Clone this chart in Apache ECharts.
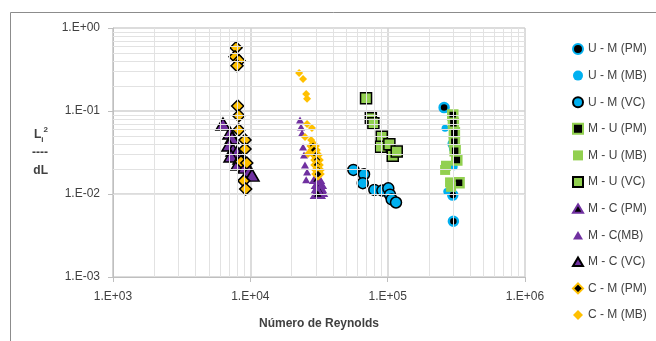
<!DOCTYPE html>
<html>
<head>
<meta charset="utf-8">
<script src="https://cdn.jsdelivr.net/npm/echarts@6/dist/echarts.min.js"></script>
<style>
  html, body { margin: 0; padding: 0; background: #fff; }
  #chart { width: 656px; height: 341px; }
</style>
</head>
<body>
<div id="chart"></div>
<script>
// [Reynolds number, Li^2 / dL]
const umPM = [[257600, 0.110], [297900, 0.0097], [301000, 0.0047], [300000, 0.040]]
const umMB = [[261800, 0.062], [304900, 0.0213], [269400, 0.0107], [296000, 0.035]]
const umVC = [[56300, 0.0195], [67300, 0.0173], [65900, 0.0135], [80000, 0.0112], [91500, 0.0110],
  [101100, 0.0117], [104000, 0.0098], [107000, 0.0086], [115000, 0.0079]]
const muPM = [[297900, 0.0895], [301000, 0.0711], [306000, 0.0548], [306000, 0.0427],
  [309900, 0.0332], [318700, 0.0257], [331000, 0.0137]]
const muMB = [[266000, 0.0219], [262000, 0.0195], [284600, 0.0138], [289500, 0.0122]]
const muVC = [[69600, 0.142], [75400, 0.0817], [78700, 0.0711], [90600, 0.0490], [89100, 0.0372],
  [102900, 0.0397], [108900, 0.0289], [116400, 0.0324]]
const mcPM = [[30600, 0.0156], [31600, 0.0136], [31600, 0.0121], [32200, 0.0109], [31000, 0.0103]]
const mcMB = [[23000, 0.078], [23400, 0.0641], [23800, 0.0543], [24200, 0.0368], [24600, 0.0295],
  [25000, 0.0224], [25900, 0.0184], [25500, 0.0148]]
const mcVC = [[6320, 0.0697], [7110, 0.0543], [7360, 0.0473], [6990, 0.0389], [7480, 0.0339],
  [8000, 0.0321], [7230, 0.0287], [8410, 0.0272], [9000, 0.0250], [8130, 0.0230],
  [9140, 0.0211], [9790, 0.0189], [10290, 0.0169]]
const cmPM = [[28650, 0.0379], [29100, 0.0339], [30100, 0.0295], [30600, 0.0257],
  [30600, 0.0224], [31100, 0.0195], [31100, 0.0174]]
const cmMB = [[22650, 0.287], [24200, 0.243], [25500, 0.160], [25900, 0.140], [25900, 0.0697],
  [28100, 0.0624], [25000, 0.0486], [27700, 0.0447], [26300, 0.0303]]
const cmVC = [[7870, 0.579], [7740, 0.451], [8280, 0.404], [8000, 0.351], [8090, 0.115],
  [8240, 0.0877], [8240, 0.059], [9150, 0.0447], [9150, 0.0348], [8550, 0.0245],
  [9420, 0.0236], [8960, 0.0144], [9250, 0.0115]]

const legendNames = ['U - M (PM)', 'U - M (MB)', 'U - M (VC)', 'M - U (PM)', 'M - U (MB)', 'M - U (VC)',
  'M - C (PM)', 'M - C(MB)', 'M - C (VC)', 'C - M (PM)', 'C - M (MB)']

const xMinor = []
const yMinor = []
for (const d of [1e3, 1e4, 1e5]) for (let k = 2; k <= 9; k++) xMinor.push({ xAxis: k * d })
for (const d of [1e-3, 1e-2, 1e-1]) for (let k = 2; k <= 9; k++) yMinor.push({ yAxis: k * d })

const BLUE = '#00B0F0', GREEN = '#92D050', PURPLE = '#7030A0', GOLD = '#FFC000'
const TRI = 'path://M0,0L10,17L-10,17Z'
const DIA = 'path://M0,0L10,10L0,20L-10,10Z'
const font = 'Liberation Sans'

const pm = (name, symbol, col, data, size) => ({
  name, type: 'scatter', symbol, symbolSize: size, data,
  itemStyle: { color: '#000', borderColor: col, borderWidth: 2.5, opacity: 1 },
})
const mb = (name, symbol, col, data, size) => ({
  name, type: 'scatter', symbol, symbolSize: size, data,
  itemStyle: { color: col, opacity: 1 },
})
const vc = (name, symbol, col, data, size) => ({
  name, type: 'scatter', symbol, symbolSize: size, data,
  itemStyle: { color: col, borderColor: '#000', borderWidth: 1.5, opacity: 1 },
})

const expLabel = (v) => {
  const e = Math.round(Math.log10(v))
  return '1.E' + (e < 0 ? '-' : '+') + String(Math.abs(e)).padStart(2, '0')
}

const chart = echarts.init(document.getElementById('chart'))
chart.setOption({
  animation: false,
  textStyle: { fontFamily: font },
  graphic: [{
    type: 'rect', shape: { x: 10.5, y: 12.5, width: 700, height: 400 },
    style: { fill: 'none', stroke: '#8c8c8c', lineWidth: 1 }, silent: true,
  }],
  grid: { left: 113, right: 131, top: 28, bottom: 64 },
  legend: {
    data: legendNames, orient: 'vertical', left: 567, top: 38,
    itemWidth: 10, itemHeight: 10, itemGap: 14.6,
    textStyle: { fontFamily: font, fontSize: 12, color: '#404040' },
  },
  xAxis: {
    type: 'log', logBase: 10, min: 1e3, max: 1e6,
    name: 'Número de Reynolds', nameLocation: 'middle', nameGap: 41,
    nameTextStyle: { fontFamily: font, fontWeight: 'bold', fontSize: 12, color: '#404040' },
    axisLine: { lineStyle: { color: '#bfbfbf', width: 1 } },
    axisTick: { show: true, length: 5, lineStyle: { color: '#bfbfbf' } },
    axisLabel: { formatter: expLabel, margin: 14, fontSize: 12, color: '#404040' },
    splitLine: { show: true, lineStyle: { color: '#d0d0d0', width: 1.5 } },
  },
  yAxis: {
    type: 'log', logBase: 10, min: 1e-3, max: 1,
    name: '{a|L}{s|i}{p|2}\n{d|----}\n{a|dL}', nameLocation: 'middle', nameRotate: 0, nameGap: 65,
    nameTextStyle: {
      fontFamily: font, fontWeight: 'bold', color: '#404040',
      rich: {
        a: { fontFamily: font, fontWeight: 'bold', fontSize: 12, lineHeight: 18, color: '#404040' },
        s: { fontFamily: font, fontWeight: 'bold', fontSize: 8, verticalAlign: 'bottom', color: '#404040' },
        p: { fontFamily: font, fontWeight: 'bold', fontSize: 8, verticalAlign: 'top', color: '#404040' },
        d: { fontFamily: font, fontWeight: 'bold', fontSize: 12, lineHeight: 18, color: '#404040' },
      },
    },
    axisLine: { show: true, lineStyle: { color: '#bfbfbf', width: 1 } },
    axisTick: { show: true, length: 5, lineStyle: { color: '#bfbfbf' } },
    axisLabel: { formatter: expLabel, margin: 13, fontSize: 12, color: '#404040' },
    splitLine: { show: true, lineStyle: { color: '#d0d0d0', width: 1.5 } },
  },
  series: [
    {
      type: 'line', data: [], z: 1, silent: true,
      markLine: {
        silent: true, symbol: 'none', label: { show: false },
        lineStyle: { color: '#e2e2e2', width: 1, type: 'solid' },
        data: xMinor.concat(yMinor),
      },
    },
    pm('U - M (PM)', 'circle', BLUE, umPM, 9),
    mb('U - M (MB)', 'circle', BLUE, umMB, 7),
    vc('U - M (VC)', 'circle', BLUE, umVC, 11),
    pm('M - U (PM)', 'rect', GREEN, muPM, 9),
    mb('M - U (MB)', 'rect', GREEN, muMB, 10),
    vc('M - U (VC)', 'rect', GREEN, muVC, 11),
    pm('M - C (PM)', TRI, PURPLE, mcPM, [12, 10]),
    mb('M - C(MB)', TRI, PURPLE, mcMB, [8, 7]),
    vc('M - C (VC)', TRI, PURPLE, mcVC, [14, 12]),
    pm('C - M (PM)', DIA, GOLD, cmPM, 10),
    mb('C - M (MB)', DIA, GOLD, cmMB, 8),
    vc('C - M (VC)', DIA, GOLD, cmVC, 12),
  ],
})
</script>
</body>
</html>
